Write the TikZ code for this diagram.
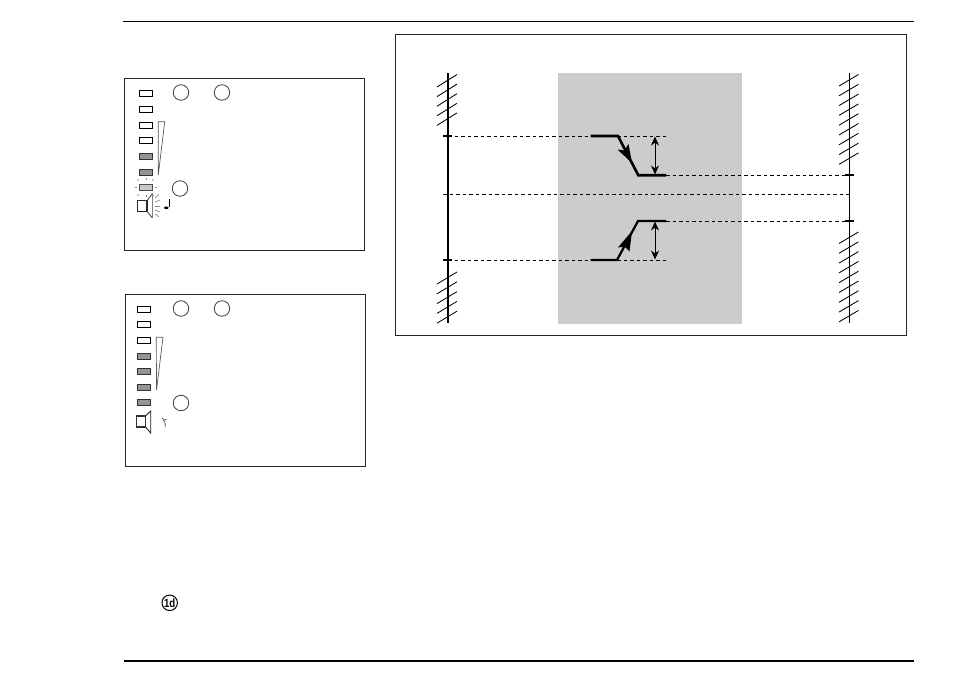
\documentclass[tikz,border=0pt]{standalone}
\usepackage{fontspec}
\setmainfont{Liberation Sans}
\usetikzlibrary{arrows.meta}
\tikzset{
  frameb/.style={draw=black!85,line width=0.9pt,fill=none},
  ledoff/.style={draw=black,line width=0.95pt,fill=white,minimum width=13pt,minimum height=6pt,inner sep=0pt,outer sep=0pt},
  ledon/.style={draw=black!80,line width=0.95pt,fill=black!42,minimum width=13pt,minimum height=6pt,inner sep=0pt,outer sep=0pt},
  ledblink/.style={draw=black!70,line width=0.9pt,fill=black!22,minimum width=13pt,minimum height=6pt,inner sep=0pt,outer sep=0pt},
  callout/.style={draw=black!75,line width=0.8pt,circle,minimum size=15.5pt,inner sep=0pt,outer sep=0pt},
  wedge/.style={draw=black!65,line width=0.7pt,fill=white,line join=miter},
  ray/.style={draw=black!45,line width=0.7pt},
  hatch/.style={draw=black,line width=0.85pt},
  level/.style={draw=black,line width=0.9pt,dash pattern=on 3.6pt off 2.9pt},
  dim/.style={draw=black,line width=0.9pt,{Stealth[length=9pt,width=8pt]}-{Stealth[length=9pt,width=8pt]}},
  trend/.style={draw=none,fill=black}
}
\begin{document}
\begin{tikzpicture}[x=1pt,y=-1pt]
\useasboundingbox (0,0) rectangle (954,682);
\fill[white] (0,0) rectangle (954,682);
% page rules
\coordinate (tl) at (123,21.3); \coordinate (tr) at (914,21.3);
\coordinate (bl) at (124,661.2); \coordinate (br) at (914,661.2);
\draw[black,line width=0.9pt] (tl) -- (tr);
\draw[black,line width=2pt] (bl) -- (br);
% frames
\draw[frameb] (124.5,78.5) rectangle (364.5,250.5);
\draw[frameb] (125.5,294.5) rectangle (365.5,466.5);
\draw[frameb] (395.5,34.5) rectangle (906.5,335.5);
\fill[black!20] (558,73) rectangle (742,323.5);
% panel 1
\foreach \n/\y in {a/93.3,b/109.3,c/125,d/140.5}{\node[ledoff] (p1\n) at (145.7,\y) {};}
\foreach \n/\y in {e/156.5,f/172}{\node[ledon] (p1\n) at (145.7,\y) {};}
\node[ledblink] (p1g) at (145.7,187.3) {};
\node[callout] (c1) at (181,92.5) {};
\node[callout] (c2) at (222,92.5) {};
\node[callout] (c3) at (180,188.5) {};
\draw[wedge] (158.3,121.7) -- (164.7,121.7) -- (158.3,175) -- cycle;
% blink rays
\foreach \a/\b/\c/\d in {137/187.5/135/187.5, 155/187.5/157/187.5, 146/180/146/178, 146/195/146/197, 139/181/137/179, 152/181/154/179, 139/194/137/196, 152/194/154/196}{\draw[ray] (\a,\b) -- (\c,\d);}
% speaker 1
\draw[black!85,line width=1.3pt] (137.7,200.7) rectangle (147,211.5);
\draw[black!70,line width=0.9pt] (147,200.7) -- (152.5,193.5);
\draw[black!70,line width=0.9pt] (147,211.5) -- (152.5,218);
\draw[black!50,line width=1.4pt] (152.5,193) -- (152.5,218.5);
\foreach \a/\b/\c/\d in {155/198/159/194.5, 155/202/160/200, 155/206/160/206, 155/210/160/212, 155/214/159/217}{\draw[ray] (\a,\b) -- (\c,\d);}
% note mark 1
\draw[black,line width=0.8pt] (169,199) -- (169,207);
\fill[black] (166.3,207.8) ellipse (2.3 and 1.3);
% panel 2
\foreach \n/\y in {a/309.3,b/324.7,c/340.3}{\node[ledoff] (p2\n) at (144,\y) {};}
\foreach \n/\y in {d/356,e/371.3,f/387,g/402.3}{\node[ledon] (p2\n) at (144,\y) {};}
\node[callout] (c4) at (181,308.5) {};
\node[callout] (c5) at (222,308.5) {};
\node[callout] (c6) at (181,403) {};
\draw[wedge] (156.3,337.2) -- (163,337.2) -- (156.5,390) -- cycle;
% speaker 2
\draw[black!80,line width=1.2pt] (136.5,416) rectangle (145.5,427);
\draw[black!85,line width=0.9pt] (145.5,416) -- (150.7,411) -- (150.7,433) -- (145.5,427);
\draw[black!65,line width=0.8pt] (162,418) .. controls (163,420) and (165,420.5) .. (166.5,419.5);
\draw[black!65,line width=0.8pt] (163.5,419.8) .. controls (165,422) .. (165.3,427);
% walls
\coordinate (lt) at (448,73); \coordinate (lb) at (448,323);
\coordinate (rt) at (849.3,73); \coordinate (rb) at (849.3,323);
\draw[black,line width=2pt] (lt) -- (lb);
\draw[black,line width=1.3pt] (rt) -- (rb);
\foreach \i in {0,...,4}{
  \draw[hatch] (437,87+9.6*\i) -- (457,74.5+9.6*\i);
  \draw[hatch] (437,284+9.8*\i) -- (457,272+9.8*\i);
}
\foreach \i in {0,...,8}{
  \draw[hatch] (839,86+9.8*\i) -- (858.5,74.5+9.8*\i);
  \draw[hatch] (839,243.5+9.8*\i) -- (858.5,232+9.8*\i);
}
% ticks
\draw[black,line width=2.2pt] (443,136) -- (452,136);
\draw[black,line width=2.2pt] (443,260) -- (452,260);
\draw[black,line width=2.2pt] (845,174.7) -- (853.5,174.7);
\draw[black,line width=2.2pt] (845,220.7) -- (853.5,220.7);
% levels
\coordinate (a1) at (448,136); \coordinate (a2) at (666,136);
\coordinate (b1) at (666,175.3); \coordinate (b2) at (849,175.3);
\coordinate (m1) at (443,194.3); \coordinate (m2) at (852,194.3);
\coordinate (d1) at (666,221); \coordinate (d2) at (849,221);
\coordinate (e1) at (448,260.3); \coordinate (e2) at (666,260.3);
\draw[level] (a1) -- (a2);
\draw[level] (b1) -- (b2);
\draw[level] (m1) -- (m2);
\draw[level] (d1) -- (d2);
\draw[level] (e1) -- (e2);
% bold profile
\draw[black,line width=2.6pt,line join=miter] (590.7,136) -- (618,136) -- (638.3,175.3) -- (666,175.3);
\draw[black,line width=2.2pt] (590.7,260) -- (617,260) -- (638,221) -- (666,221);
\fill[trend] (632,163) -- (617.5,149.5) -- (624.5,150.5) -- (628.5,144) -- cycle;
\fill[trend] (632,231) -- (618,247.5) -- (624.5,246.5) -- (629.5,251.5) -- cycle;
% dimensions
\coordinate (u1) at (655,136.5); \coordinate (u2) at (655,174.5);
\coordinate (v1) at (655,221.5); \coordinate (v2) at (655,259.5);
\draw[dim] (u1) -- (u2);
\draw[dim] (v1) -- (v2);
% bottom symbol
\node[draw=black,line width=1pt,circle,minimum size=15.5pt,inner sep=0pt,font=\fontsize{12}{12}\selectfont\bfseries] (sym) at (169.7,602.8) {\addfontfeature{FakeStretch=0.8}1d};
\end{tikzpicture}
\end{document}
